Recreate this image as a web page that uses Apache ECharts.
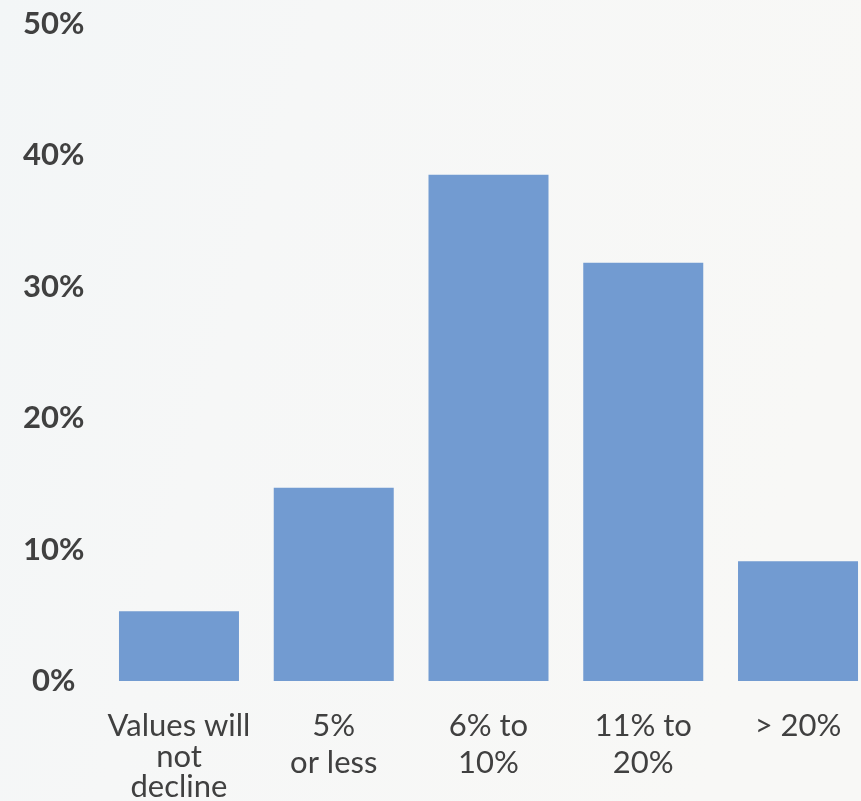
<!DOCTYPE html>
<html>
<head>
<meta charset="utf-8">
<title>Expected decline in values</title>
<script src="https://cdn.jsdelivr.net/npm/echarts@6/dist/echarts.min.js"></script>
<style>
  html, body { margin: 0; padding: 0; width: 861px; height: 801px; overflow: hidden; }
  #chart { width: 861px; height: 801px; }
</style>
</head>
<body>
<div id="chart"></div>
<script>
// Response categories and share of respondents (%)
const categories = ['Values will\nnot\ndecline', '5%\nor less', '6% to\n10%', '11% to\n20%', '> 20%'];
const shares = [5.3, 14.7, 38.5, 31.8, 9.1];
const yTicks = [0, 10, 20, 30, 40, 50];

const textColor = '#404040';
const chart = echarts.init(document.getElementById('chart'), null, { renderer: 'canvas' });

// Three-line labels are set a little tighter than two-line ones
const categoryItems = categories.map(name => {
  const lines = name.split('\n').length;
  return lines > 2
    ? { value: name, textStyle: { lineHeight: 30.5, padding: [3.25, 0, 0, 0] } }
    : { value: name };
});

chart.setOption({
  backgroundColor: {
    type: 'linear', x: 0, y: 0, x2: 1, y2: 0.3,
    colorStops: [
      { offset: 0, color: '#f3f6f7' },
      { offset: 0.35, color: '#f6f7f7' },
      { offset: 1, color: '#f8f8f6' }
    ]
  },
  animation: false,
  grid: {
    left: 101.6, top: 23.5, width: 773.8, height: 657.5,
    containLabel: false,
    outerBoundsMode: 'none'
  },
  xAxis: {
    type: 'category',
    data: categoryItems,
    axisLine: { show: false },
    axisTick: { show: false },
    axisLabel: {
      interval: 0,
      margin: 26.5,
      color: textColor,
      fontFamily: 'Lato',
      fontSize: 31,
      lineHeight: 37,
      align: 'center',
      hideOverlap: false
    }
  },
  yAxis: {
    type: 'value',
    min: yTicks[0],
    max: yTicks[yTicks.length - 1],
    interval: 10,
    splitLine: { show: false },
    axisLine: { show: false },
    axisTick: { show: false },
    axisLabel: {
      margin: 48,
      align: 'center',
      color: textColor,
      fontFamily: 'Lato',
      fontWeight: 'bold',
      fontSize: 31,
      padding: [0, 0, 3, 0],
      formatter: v => v + '%'
    }
  },
  series: [{
    type: 'bar',
    data: shares,
    barWidth: 120,
    itemStyle: { color: '#729bd1' }
  }]
});
</script>
</body>
</html>
